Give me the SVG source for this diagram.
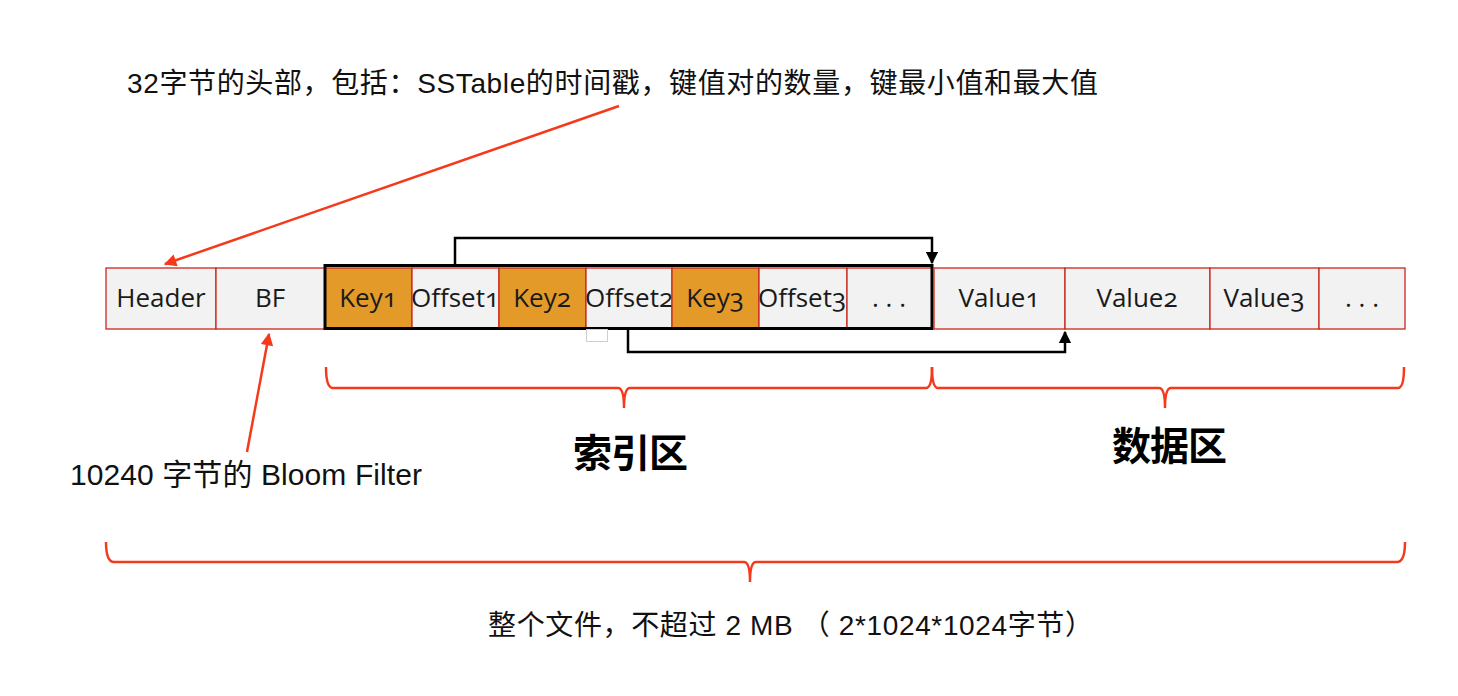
<svg xmlns="http://www.w3.org/2000/svg" width="1458" height="696" viewBox="0 0 1458 696">
<defs>
<style>
.cell{fill:#f2f2f2;stroke:#c8291e;stroke-width:1.3}
.key{fill:#e39a29;stroke:#c8291e;stroke-width:1.3}
.ct{font-family:"Open Sans","Noto Sans",sans-serif;font-size:26px;fill:#1a1a1a;text-anchor:middle;font-variant-numeric:oldstyle-nums}
.zh{font-family:"Liberation Sans","Noto Sans CJK SC",sans-serif;fill:#111}
.big{font-family:"Noto Sans CJK SC",sans-serif;font-weight:bold;font-size:39px;fill:#000}
.red{fill:none;stroke:#f53a1c;stroke-width:2.5}
.blk{fill:none;stroke:#000;stroke-width:2.5}
</style>
<marker id="ra" viewBox="0 0 10 10" refX="9" refY="5" markerWidth="5.5" markerHeight="5" orient="auto" markerUnits="strokeWidth">
<path d="M0,0 L10,5 L0,10 z" fill="#f53a1c"/>
</marker>
<marker id="ba" viewBox="0 0 10 10" refX="9" refY="5" markerWidth="5" markerHeight="5" orient="auto" markerUnits="strokeWidth">
<path d="M0,0 L10,5 L0,10 z" fill="#000"/>
</marker>
</defs>
<rect width="1458" height="696" fill="#fff"/>

<g id="header"><rect class="cell" x="106" y="268" width="110" height="61"/><text class="ct" x="161" y="307">Header</text></g>
<g id="bf"><rect class="cell" x="216" y="268" width="109" height="61"/><text class="ct" x="270" y="307">BF</text></g>
<g id="key1"><rect class="key" x="325" y="268" width="87" height="61"/><text class="ct" x="368" y="307">Key1</text></g>
<g id="offset1"><rect class="cell" x="412" y="268" width="87" height="61"/><text class="ct" x="455" y="307">Offset1</text></g>
<g id="key2"><rect class="key" x="499" y="268" width="87" height="61"/><text class="ct" x="542" y="307">Key2</text></g>
<g id="offset2"><rect class="cell" x="586" y="268" width="86" height="61"/><text class="ct" x="629" y="307">Offset2</text></g>
<g id="key3"><rect class="key" x="672" y="268" width="87" height="61"/><text class="ct" x="715" y="307">Key3</text></g>
<g id="offset3"><rect class="cell" x="759" y="268" width="88" height="61"/><text class="ct" x="802" y="307">Offset3</text></g>
<g id="idx-more"><rect class="cell" x="847" y="268" width="85" height="61"/><text class="ct" x="889" y="307">. . .</text></g>
<g id="index-frame"><rect x="325" y="265.5" width="607" height="63" fill="none" stroke="#000" stroke-width="3"/></g>
<g id="value1"><rect class="cell" x="934" y="268" width="131" height="61"/><text class="ct" x="999" y="307">Value1</text></g>
<g id="value2"><rect class="cell" x="1065" y="268" width="145" height="61"/><text class="ct" x="1137" y="307">Value2</text></g>
<g id="value3"><rect class="cell" x="1210" y="268" width="109" height="61"/><text class="ct" x="1264" y="307">Value3</text></g>
<g id="val-more"><rect class="cell" x="1319" y="268" width="86" height="61"/><text class="ct" x="1362" y="307">. . .</text></g>
<rect x="586.5" y="329.5" width="21" height="12" fill="none" stroke="#cfcfcf" stroke-width="1"/>

<g id="connectors">
<path class="blk" d="M455,265 V238 H932 V263" marker-end="url(#ba)"/>
<path class="blk" d="M628,329 V352 H1065 V332" marker-end="url(#ba)"/>
<path class="red" d="M619,106 L165,264" marker-end="url(#ra)"/>
<path class="red" d="M247,452 L269,334" marker-end="url(#ra)"/>
<path class="red" d="M326,367 Q326,388 333,388 H618 Q624,388 624,408 Q624,388 630,388 H926 Q932,388 932,367"/>
<path class="red" d="M932,367 Q932,388 938,388 H1159 Q1165,388 1165,408 Q1165,388 1171,388 H1398 Q1404,388 1404,367"/>
<path class="red" d="M106,542 Q106,562 114,562 H744 Q750,562 750,582 Q750,562 756,562 H1397 Q1405,562 1405,542"/>
</g>

<g id="labels">
<text class="zh" x="127" y="93" font-size="28" textLength="971" lengthAdjust="spacing">32字节的头部，包括：SSTable的时间戳，键值对的数量，键最小值和最大值</text>
<text class="zh" x="70" y="485" font-size="30" textLength="352" lengthAdjust="spacing">10240 字节的 Bloom Filter</text>
<text class="big" x="573" y="467" textLength="115" lengthAdjust="spacing">索引区</text>
<text class="big" x="1112" y="460" textLength="115" lengthAdjust="spacing">数据区</text>
<text class="zh" x="488" y="635" font-size="28" textLength="605" lengthAdjust="spacing">整个文件，不超过 2 MB （ 2*1024*1024字节）</text>
</g>
</svg>
